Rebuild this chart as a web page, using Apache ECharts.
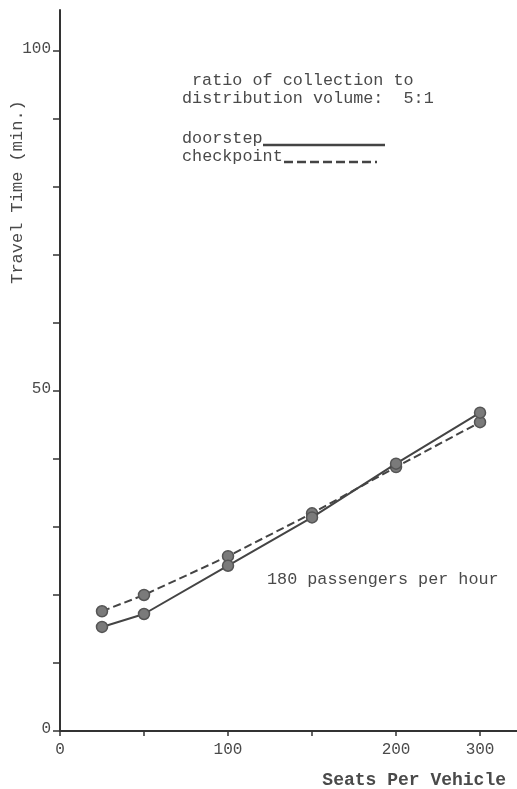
<!DOCTYPE html>
<html>
<head>
<meta charset="utf-8">
<script src="https://cdn.jsdelivr.net/npm/echarts@6/dist/echarts.min.js"></script>
<style>html,body{margin:0;padding:0;background:#fff}#c{width:517px;height:789px}</style>
</head>
<body>
<div id="c"></div>
<script>
// Data
const seats = [25, 50, 100, 150, 200, 300];
const doorstep = [15.3, 17.2, 24.3, 31.4, 39.3, 46.8];
const checkpoint = [17.6, 20.0, 25.7, 32.0, 38.8, 45.4];
const xTickValues = [0, 50, 100, 150, 200, 300];
const xLabelValues = [0, 100, 200, 300];
const yTickValues = [0, 10, 20, 30, 40, 50, 60, 70, 80, 90, 100];
const yLabelValues = [0, 50, 100];

// The x axis is broken after 200: 300 is drawn one half-step beyond 200
function xPos(s) { return s <= 200 ? s : 200 + (s - 200) / 2; }
function xLabel(p) { return String(p <= 200 ? p : 200 + (p - 200) * 2); }

const FONT = '"Liberation Mono", "DejaVu Sans Mono", monospace';
const INK = '#4a4a4a';

const chart = echarts.init(document.getElementById('c'));
chart.setOption({
  backgroundColor: '#fff',
  animation: false,
  grid: { left: 60, right: 0, top: 10, bottom: 58, containLabel: false, outerBoundsMode: 'none' },
  xAxis: {
    type: 'value', min: 0, max: 272,
    splitLine: { show: false },
    axisLine: { lineStyle: { color: '#333', width: 2 } },
    axisTick: { show: true, length: 5, inside: false, lineStyle: { color: '#333', width: 1.5 },
      customValues: xTickValues.map(xPos) },
    axisLabel: { customValues: xLabelValues.map(xPos), formatter: v => xLabel(v),
      color: INK, fontFamily: FONT, fontSize: 16, margin: 11 }
  },
  yAxis: {
    type: 'value', min: 0, max: 106,
    splitLine: { show: false },
    axisLine: { lineStyle: { color: '#333', width: 2 } },
    axisTick: { show: true, length: 7, lineStyle: { color: '#333', width: 1.5 }, customValues: yTickValues },
    axisLabel: { customValues: yLabelValues, color: INK, fontFamily: FONT, fontSize: 16, margin: 9,
      verticalAlign: 'bottom', padding: [0, 0, -6, 0] }
  },
  series: [
    {
      name: 'doorstep', type: 'line',
      data: seats.map((s, i) => [xPos(s), doorstep[i]]),
      symbol: 'circle', symbolSize: 11,
      lineStyle: { color: '#444', width: 2 },
      itemStyle: { color: '#7a7a7a', borderColor: '#555', borderWidth: 1.5 },
      z: 3
    },
    {
      name: 'checkpoint', type: 'line',
      data: seats.map((s, i) => [xPos(s), checkpoint[i]]),
      symbol: 'circle', symbolSize: 11,
      lineStyle: { color: '#444', width: 2, type: [8, 4] },
      itemStyle: { color: '#7a7a7a', borderColor: '#555', borderWidth: 1.5 },
      z: 2
    }
  ],
  graphic: [
    { type: 'text', x: 17, y: 192, rotation: Math.PI / 2,
      style: { text: 'Travel Time (min.)', font: '17px ' + FONT, fill: INK, align: 'center', verticalAlign: 'middle' } },
    { type: 'text', x: 506, y: 780,
      style: { text: 'Seats Per Vehicle', font: 'bold 18px ' + FONT, fill: INK, align: 'right', verticalAlign: 'middle' } },
    { type: 'text', x: 192, y: 81, style: { text: 'ratio of collection to', font: '16.8px ' + FONT, fill: INK, verticalAlign: 'middle' } },
    { type: 'text', x: 182, y: 99, style: { text: 'distribution volume:  5:1', font: '16.8px ' + FONT, fill: INK, verticalAlign: 'middle' } },
    { type: 'text', x: 182, y: 139, style: { text: 'doorstep', font: '16.8px ' + FONT, fill: INK, verticalAlign: 'middle' } },
    { type: 'line', shape: { x1: 263, y1: 145, x2: 385, y2: 145 }, style: { stroke: '#444', lineWidth: 2.5 } },
    { type: 'text', x: 182, y: 157, style: { text: 'checkpoint', font: '16.8px ' + FONT, fill: INK, verticalAlign: 'middle' } },
    { type: 'line', shape: { x1: 284, y1: 162, x2: 377, y2: 162 }, style: { stroke: '#444', lineWidth: 2.5, lineDash: [9, 4] } },
    { type: 'text', x: 267, y: 580, style: { text: '180 passengers per hour', font: '16.8px ' + FONT, fill: INK, verticalAlign: 'middle' } }
  ]
});
</script>
</body>
</html>
